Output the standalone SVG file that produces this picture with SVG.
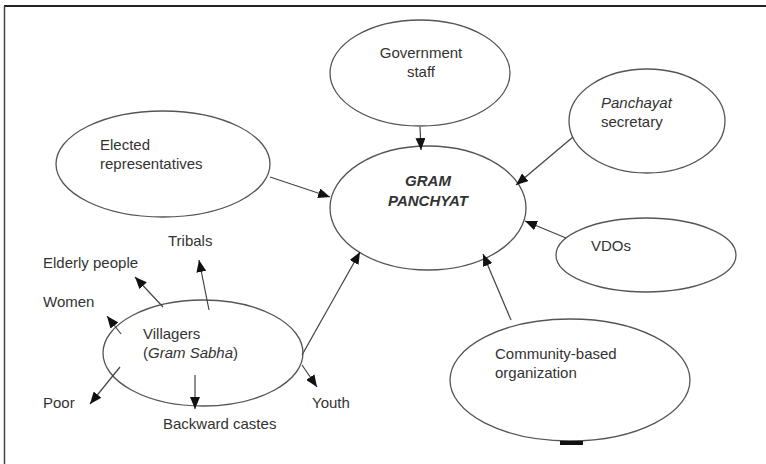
<svg xmlns="http://www.w3.org/2000/svg" width="766" height="464" viewBox="0 0 766 464">
<defs>
<marker id="ah" viewBox="0 0 12 10" refX="12" refY="5" markerWidth="12" markerHeight="10" markerUnits="userSpaceOnUse" orient="auto"><path d="M0,0 L12,5 L0,10 z" fill="#111"/></marker>
</defs>
<style>
.n{fill:#fff;stroke:#555;stroke-width:1.3}
.t{font-family:"Liberation Sans",Arial,sans-serif;font-size:15px;fill:#333}
.c{fill:none;stroke:#444;stroke-width:1.2;marker-end:url(#ah)}
.it{font-style:italic}
</style>
<rect x="0" y="0" width="766" height="464" fill="#fff"/>
<g id="frame">
<line x1="4" y1="6" x2="766" y2="6" stroke="#222" stroke-width="2"/>
<line x1="4.5" y1="6" x2="4.5" y2="464" stroke="#444" stroke-width="1.5"/>
</g>
<g id="gov"><ellipse class="n" cx="420" cy="73" rx="90" ry="53"/><text class="t" x="421" y="58" text-anchor="middle">Government</text><text class="t" x="421" y="77" text-anchor="middle">staff</text></g>
<g id="secretary"><ellipse class="n" cx="647" cy="121" rx="78" ry="52"/><text class="t" x="601" y="108"><tspan class="it">Panchayat</tspan></text><text class="t" x="601" y="127">secretary</text></g>
<g id="elected"><ellipse class="n" cx="163" cy="164" rx="107" ry="53"/><text class="t" x="100" y="150">Elected</text><text class="t" x="100" y="169">representatives</text></g>
<g id="gram"><ellipse class="n" cx="428" cy="208" rx="98" ry="62"/><text class="t" x="428" y="186" text-anchor="middle" font-weight="bold" font-style="italic">GRAM</text><text class="t" x="428" y="206" text-anchor="middle" font-weight="bold" font-style="italic">PANCHYAT</text></g>
<g id="vdos"><ellipse class="n" cx="646" cy="255" rx="90" ry="37"/><text class="t" x="591" y="251">VDOs</text></g>
<g id="cbo"><ellipse class="n" cx="570" cy="380" rx="120" ry="61"/><text class="t" x="495" y="359">Community-based</text><text class="t" x="495" y="378">organization</text><rect x="560" y="441" width="23" height="4" fill="#111"/></g>
<g id="villagers"><ellipse class="n" cx="203" cy="353" rx="100" ry="53"/><text class="t" x="143" y="339">Villagers</text><text class="t" x="143" y="358">(<tspan class="it">Gram Sabha</tspan>)</text></g>
<g id="tribals"><text class="t" x="168" y="246">Tribals</text></g>
<g id="elderly"><text class="t" x="43" y="268">Elderly people</text></g>
<g id="women"><text class="t" x="43" y="307">Women</text></g>
<g id="poor"><text class="t" x="43" y="408">Poor</text></g>
<g id="backward"><text class="t" x="163" y="429">Backward castes</text></g>
<g id="youth"><text class="t" x="312" y="408">Youth</text></g>
<g id="connectors">
<path class="c" d="M420,127 L421,150"/>
<path class="c" d="M573,137 L516,185"/>
<path class="c" d="M270,177 L330,197"/>
<path class="c" d="M566,238 L525,221"/>
<path class="c" d="M511,320 L483,254"/>
<path class="c" d="M302,355 L360,252"/>
<path class="c" d="M209,310 L199,260"/>
<path class="c" d="M163,307 L135,277"/>
<path class="c" d="M121,334 L107,316"/>
<path class="c" d="M120,367 L90,404"/>
<path class="c" d="M195,375 L195,409"/>
<path class="c" d="M302,365 L317,387"/>
</g>
</svg>
